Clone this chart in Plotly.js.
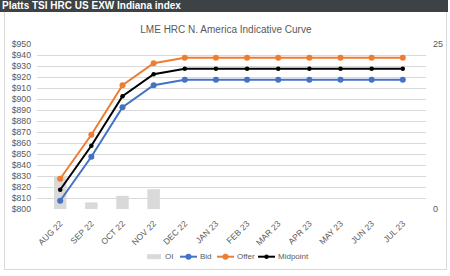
<!DOCTYPE html>
<html>
<head>
<meta charset="utf-8">
<script src="https://cdn.plot.ly/plotly-3.0.1.min.js"></script>
<style>
  html, body { margin: 0; padding: 0; background: #ffffff; }
  #wrap { position: relative; width: 450px; height: 276px; overflow: hidden; }
  #hdr { position: absolute; left: 0; top: 0; width: 448px; height: 12px; background: #3d4245;
         color: #ffffff; font: bold 10px "Liberation Sans", Arial, sans-serif;
         line-height: 12px; padding-left: 2px; box-sizing: border-box; white-space: nowrap; }
  #frame { position: absolute; left: 4px; top: 12px; width: 443px; height: 258px;
           border: 1px solid #d9d9d9; border-top: none; box-sizing: border-box; }
  #chart { position: absolute; left: 0; top: 0; width: 450px; height: 276px; }
</style>
</head>
<body>
<div id="wrap">
  <div id="frame"></div>
  <div id="hdr">Platts TSI HRC US EXW Indiana index</div>
  <div id="chart"></div>
</div>
<script>
const months = ["AUG 22","SEP 22","OCT 22","NOV 22","DEC 22","JAN 23","FEB 23","MAR 23","APR 23","MAY 23","JUN 23","JUL 23"];
const oi       = [5, 1, 2, 3, 0, 0, 0, 0, 0, 0, 0, 0];
const bid      = [807.5, 847.5, 892.5, 912.5, 917.5, 917.5, 917.5, 917.5, 917.5, 917.5, 917.5, 917.5];
const offer    = [827.5, 867.5, 912.5, 932.5, 937.5, 937.5, 937.5, 937.5, 937.5, 937.5, 937.5, 937.5];
const midpoint = [817.5, 857.5, 902.5, 922.5, 927.5, 927.5, 927.5, 927.5, 927.5, 927.5, 927.5, 927.5];
const priceTicks = [800,810,820,830,840,850,860,870,880,890,900,910,920,930,940,950];
const oiTicks = [0, 25];
const seriesNames = ['OI', 'Bid', 'Offer', 'Midpoint'];

const F = '"Liberation Sans", Arial, sans-serif';
const grey = '#595959';
const colors = { OI: '#d9d9d9', Bid: '#4472c4', Offer: '#ed7d31', Midpoint: '#000000' };

const traces = [
  { type: 'bar', name: seriesNames[0], x: months, y: oi, xaxis: 'x', yaxis: 'y',
    marker: { color: colors.OI }, width: 0.4 },
  { type: 'scatter', mode: 'lines+markers', name: seriesNames[1], x: months, y: bid, xaxis: 'x', yaxis: 'y2',
    line: { color: colors.Bid, width: 2 }, marker: { color: colors.Bid, size: 6 } },
  { type: 'scatter', mode: 'lines+markers', name: seriesNames[2], x: months, y: offer, xaxis: 'x', yaxis: 'y2',
    line: { color: colors.Offer, width: 2 }, marker: { color: colors.Offer, size: 6 } },
  { type: 'scatter', mode: 'lines+markers', name: seriesNames[3], x: months, y: midpoint, xaxis: 'x', yaxis: 'y2',
    line: { color: colors.Midpoint, width: 2 }, marker: { color: colors.Midpoint, size: 4.5 } }
];

// Manual compact legend (Excel style), positioned in paper space
const M = { l: 37, r: 24, t: 44, b: 67 };
const PW = 450 - M.l - M.r, PH = 276 - M.t - M.b;
const px = v => (v - M.l) / PW;
const py = v => (276 - M.b - v) / PH;
const legY = py(256.7);
const legStart = [147, 180, 217, 258];   // left edge of each legend symbol (px)
const shapes = [], annotations = [];
seriesNames.forEach((n, i) => {
  const x0 = legStart[i];
  if (i === 0) {
    shapes.push({ type: 'rect', xref: 'paper', yref: 'paper', xsizemode: 'pixel', ysizemode: 'pixel',
      xanchor: px(x0), yanchor: legY, x0: 0, x1: 14, y0: -2.5, y1: 2.5,
      fillcolor: colors[n], line: { width: 0 } });
    annotations.push({ xref: 'paper', yref: 'paper', x: px(x0 + 16), y: legY, xanchor: 'left', yanchor: 'middle',
      text: n, showarrow: false, font: { family: F, size: 8, color: grey } });
  } else {
    shapes.push({ type: 'line', xref: 'paper', yref: 'paper', xsizemode: 'pixel', ysizemode: 'pixel',
      xanchor: px(x0), yanchor: legY, x0: 0, x1: 17, y0: 0, y1: 0,
      line: { color: colors[n], width: 2 } });
    const r = n === 'Midpoint' ? 2.2 : 3;
    shapes.push({ type: 'circle', xref: 'paper', yref: 'paper', xsizemode: 'pixel', ysizemode: 'pixel',
      xanchor: px(x0 + 8.5), yanchor: legY, x0: -r, x1: r, y0: -r, y1: r,
      fillcolor: colors[n], line: { width: 0 } });
    annotations.push({ xref: 'paper', yref: 'paper', x: px(x0 + 17.5), y: legY, xanchor: 'left', yanchor: 'middle',
      text: n, showarrow: false, font: { family: F, size: 8, color: grey } });
  }
});

const layout = {
  width: 450, height: 276,
  margin: { l: M.l, r: M.r, t: M.t, b: M.b, pad: 0 },
  paper_bgcolor: 'rgba(0,0,0,0)', plot_bgcolor: 'rgba(0,0,0,0)',
  title: { text: 'LME HRC N. America Indicative Curve', font: { family: F, size: 10, color: grey },
           x: 0.502, xanchor: 'center', y: 0.893, yanchor: 'middle' },
  showlegend: false,
  shapes: shapes, annotations: annotations,
  xaxis: { type: 'category', tickangle: -45, tickfont: { family: F, size: 8.5, color: grey },
           showgrid: false, showline: false, ticks: '', zeroline: false, ticklabelstandoff: 7 },
  yaxis: { side: 'right', range: [0, 25], tickvals: oiTicks, ticktext: oiTicks.map(String),
           showgrid: false, zeroline: false, showline: false, ticks: '',
           tickfont: { family: F, size: 9, color: grey }, ticklabelstandoff: 6 },
  yaxis2: { overlaying: 'y', side: 'left', range: [800, 950], tickvals: priceTicks,
            ticktext: priceTicks.map(v => '$' + v), showgrid: true, gridcolor: '#d9d9d9', gridwidth: 1,
            zeroline: false, showline: false, ticks: '',
            tickfont: { family: F, size: 8.7, color: grey }, ticklabelstandoff: 5 }
};

Plotly.newPlot('chart', traces, layout, { displayModeBar: false, staticPlot: true });
</script>
</body>
</html>
